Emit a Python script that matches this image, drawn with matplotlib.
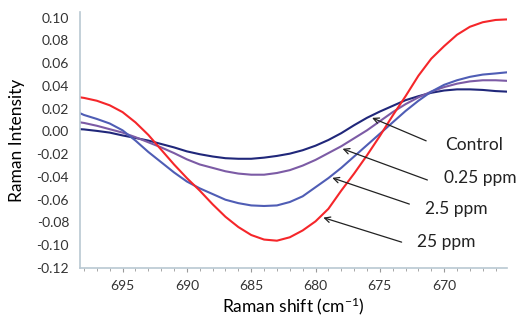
import matplotlib.pyplot as plt
from matplotlib.ticker import MultipleLocator, FormatStrFormatter

# raman shift positions (cm-1)
shift = [698.3, 698, 697, 696, 695, 694, 693, 692, 691, 690, 689, 688, 687, 686, 685, 684,
         683, 682, 681, 680, 679, 678, 677, 676, 675, 674, 673, 672, 671, 670, 669, 668,
         667, 666, 665.1]

control = [0.002, 0.0018, 0.0005, -0.001, -0.0035, -0.0057, -0.008, -0.011, -0.014, -0.0175,
           -0.020, -0.022, -0.0235, -0.024, -0.024, -0.023, -0.0215, -0.0195, -0.0165, -0.0125,
           -0.0075, -0.0015, 0.0055, 0.012, 0.0175, 0.0225, 0.0275, 0.031, 0.034, 0.036,
           0.037, 0.037, 0.0365, 0.0355, 0.035]
ppm_025 = [0.008, 0.0075, 0.005, 0.002, -0.001, -0.005, -0.0095, -0.014, -0.019, -0.0245,
           -0.029, -0.032, -0.035, -0.037, -0.038, -0.038, -0.0365, -0.034, -0.030, -0.025,
           -0.019, -0.013, -0.006, 0.001, 0.009, 0.017, 0.024, 0.030, 0.035, 0.039,
           0.042, 0.044, 0.045, 0.045, 0.0445]
ppm_25 = [0.016, 0.0145, 0.011, 0.007, 0.001, -0.008, -0.018, -0.027, -0.036, -0.044,
          -0.050, -0.055, -0.060, -0.063, -0.065, -0.0655, -0.065, -0.062, -0.057, -0.049,
          -0.041, -0.032, -0.022, -0.012, -0.002, 0.008, 0.018, 0.027, 0.035, 0.041,
          0.045, 0.048, 0.050, 0.051, 0.052]
ppm_250 = [0.030, 0.0295, 0.027, 0.023, 0.017, 0.008, -0.003, -0.016, -0.029, -0.041,
           -0.052, -0.064, -0.075, -0.084, -0.091, -0.095, -0.096, -0.093, -0.087, -0.079,
           -0.068, -0.052, -0.037, -0.021, -0.004, 0.014, 0.031, 0.049, 0.064, 0.075,
           0.085, 0.092, 0.096, 0.098, 0.0985]

labels = ['Control', '0.25 ppm', '2.5 ppm', '25 ppm']
colors = ['#20277a', '#7c5ba5', '#4f5db5', '#f5262a']

plt.rcParams['font.family'] = ['Lato', 'DejaVu Sans']
plt.rcParams['mathtext.default'] = 'regular'

fig = plt.figure(figsize=(5.17, 3.2), dpi=100)
ax = fig.add_axes([0.155, 0.1625, 0.826, 0.8])

for ys, c in zip([control, ppm_025, ppm_25, ppm_250], colors):
    ax.plot(shift, ys, color=c, lw=1.5)

ax.set_xlim(698.3, 665.1)
ax.set_ylim(-0.12, 0.105)
ax.xaxis.set_major_locator(MultipleLocator(5))
ax.xaxis.set_minor_locator(MultipleLocator(1))
ax.yaxis.set_major_locator(MultipleLocator(0.02))
ax.yaxis.set_major_formatter(FormatStrFormatter('%.2f'))

for s in ['top', 'right']:
    ax.spines[s].set_visible(False)
for s in ['left', 'bottom']:
    ax.spines[s].set_color('#b9c8d2')
    ax.spines[s].set_linewidth(1.2)

ax.tick_params(axis='y', length=0, pad=8, labelsize=10, labelcolor='#333333')
ax.tick_params(axis='x', which='major', length=3, color='#999999', labelsize=10,
               labelcolor='#333333', pad=6)
ax.tick_params(axis='x', which='minor', length=2, color='#999999')

ax.set_ylabel('Raman Intensity', fontsize=12.5, labelpad=8)
ax.set_xlabel('Raman shift (cm$^{-1}$)', fontsize=12.5, labelpad=2)

# arrows pointing at each curve
tips = [(675.8, 0.0129), (678.1, -0.0144), (678.9, -0.040), (679.6, -0.075)]
tails = [(671.2, -0.0092), (671.1, -0.0435), (672.5, -0.0646), (673.1, -0.098)]
texts = [(669.9, -0.0118), (670.0, -0.0408), (671.5, -0.0681), (672.1, -0.0972)]
for lab, tip, tail, txt in zip(labels, tips, tails, texts):
    ax.annotate('', xy=tip, xytext=tail,
                arrowprops=dict(arrowstyle='->', color='#222222', lw=0.9))
    ax.text(txt[0], txt[1], lab, fontsize=12.5, color='#222222', va='center', ha='left',
            clip_on=False)

plt.savefig('out.png')
